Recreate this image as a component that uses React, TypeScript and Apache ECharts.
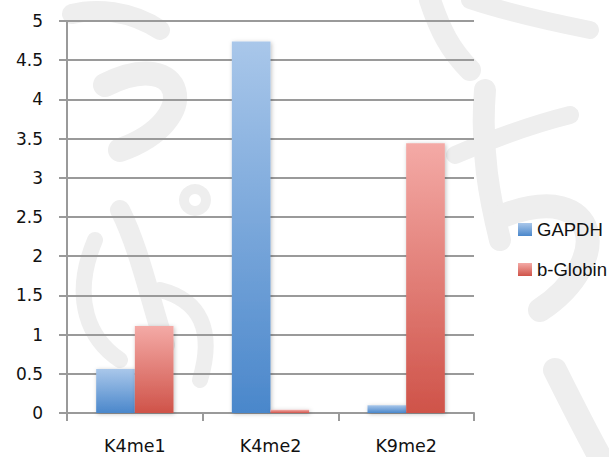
import React, { useEffect, useRef } from "react";
import * as echarts from "echarts";

const categories = ["K4me1", "K4me2", "K9me2"];
const gapdh = [0.56, 4.74, 0.1];
const bGlobin = [1.11, 0.04, 3.44];
const seriesNames = ["GAPDH", "b-Globin"];

// decorative background brush strokes: [x1, y1, cx1, cy1, cx2, cy2, x2, y2, width]
const strokes = [
  [72, 14, 95, 8, 130, 10, 160, 30, 20],
  [105, 85, 185, 45, 205, 120, 120, 150, 24],
  [120, 210, 140, 250, 150, 300, 165, 345, 20],
  [95, 240, 70, 300, 90, 340, 120, 360, 16],
  [160, 290, 200, 300, 215, 330, 200, 380, 16],
  [430, 0, 440, 30, 450, 50, 470, 70, 22],
  [470, 0, 500, 10, 540, 20, 590, 30, 18],
  [485, 90, 480, 150, 490, 200, 500, 240, 22],
  [455, 155, 490, 140, 530, 125, 570, 115, 18],
  [505, 215, 600, 180, 615, 260, 540, 310, 24],
  [555, 370, 570, 400, 585, 430, 600, 457, 24],
];

export default function App() {
  const ref = useRef<HTMLDivElement>(null);
  useEffect(() => {
    if (!ref.current) return;
    const chart = echarts.init(ref.current, undefined, { renderer: "svg" });
    const grad = (top: string, bottom: string) =>
      new echarts.graphic.LinearGradient(0, 0, 0, 1, [
        { offset: 0, color: top },
        { offset: 1, color: bottom },
      ]);
    chart.setOption({
      animation: false,
      backgroundColor: "#ffffff",
      graphic: [
        ...strokes.map((s) => ({
          type: "bezierCurve",
          z: -10,
          silent: true,
          shape: { x1: s[0], y1: s[1], cpx1: s[2], cpy1: s[3], cpx2: s[4], cpy2: s[5], x2: s[6], y2: s[7] },
          style: { stroke: "#eeeeee", lineWidth: s[8], lineCap: "round", fill: null },
        })),
        {
          type: "ring",
          z: -10,
          silent: true,
          shape: { cx: 195, cy: 200, r: 16, r0: 6 },
          style: { fill: "#eeeeee" },
        },
      ],
      grid: { left: 67, right: 135, top: 21, bottom: 44 },
      legend: {
        orient: "vertical",
        left: 513,
        top: 215,
        itemWidth: 14,
        itemHeight: 13,
        itemGap: 21,
        itemTextGap: 7,
        icon: "rect",
        textStyle: { fontSize: 18.5, color: "#111", fontFamily: "Liberation Sans, Arial, sans-serif" },
        data: seriesNames,
      },
      xAxis: {
        type: "category",
        data: categories,
        axisLine: { lineStyle: { color: "#9a9a9a", width: 2 } },
        axisTick: { show: true, length: 8, lineStyle: { color: "#9a9a9a", width: 2 } },
        axisLabel: { fontSize: 17.5, color: "#111", margin: 24, fontFamily: "DejaVu Sans, sans-serif" },
      },
      yAxis: {
        type: "value",
        min: 0,
        max: 5,
        interval: 0.5,
        axisLine: { show: true, lineStyle: { color: "#9a9a9a", width: 2 } },
        axisTick: { show: true, inside: false, length: 8, lineStyle: { color: "#9a9a9a", width: 2 } },
        axisLabel: { fontSize: 17, color: "#111", margin: 24, fontFamily: "DejaVu Sans, sans-serif" },
        splitLine: { lineStyle: { color: "#9a9a9a", width: 2 } },
      },
      series: [
        {
          name: seriesNames[0],
          type: "bar",
          data: gapdh,
          barGap: "0%",
          barCategoryGap: "43%",
          itemStyle: {
            color: grad("#a9c7ea", "#4a87cb"),
            shadowColor: "rgba(0,0,0,0.25)",
            shadowBlur: 4,
            shadowOffsetX: 1,
            shadowOffsetY: 1,
          },
        },
        {
          name: seriesNames[1],
          type: "bar",
          data: bGlobin,
          barGap: "0%",
          barCategoryGap: "43%",
          itemStyle: {
            color: grad("#f4aaa6", "#cf5349"),
            shadowColor: "rgba(0,0,0,0.25)",
            shadowBlur: 4,
            shadowOffsetX: 1,
            shadowOffsetY: 1,
          },
        },
      ],
    });
    return () => chart.dispose();
  }, []);
  return <div ref={ref} style={{ width: 609, height: 457, position: "fixed", left: 0, top: 0 }} />;
}
